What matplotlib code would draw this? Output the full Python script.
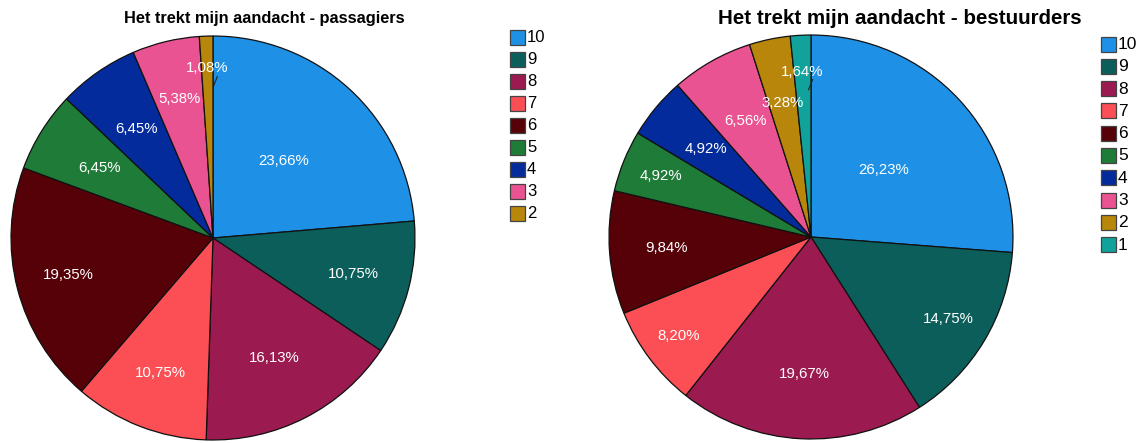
import matplotlib
matplotlib.use("Agg")
import matplotlib.pyplot as plt
from matplotlib.patches import Rectangle
import numpy as np

plt.rcParams['font.family'] = ['Liberation Sans', 'DejaVu Sans']

# Scores and their share of respondents (%)
labels_pass = ["10", "9", "8", "7", "6", "5", "4", "3", "2"]
pct_pass = [23.66, 10.75, 16.13, 10.75, 19.35, 6.45, 6.45, 5.38, 1.08]

labels_best = ["10", "9", "8", "7", "6", "5", "4", "3", "2", "1"]
pct_best = [26.23, 14.75, 19.67, 8.20, 9.84, 4.92, 4.92, 6.56, 3.28, 1.64]

titles = ["Het trekt mijn aandacht - passagiers",
          "Het trekt mijn aandacht - bestuurders"]

score_colors = {
    "10": "#1E91E6", "9": "#0C5E5B", "8": "#9B1A50", "7": "#FB4F55",
    "6": "#560008", "5": "#1F7C38", "4": "#032B9B", "3": "#EA5391",
    "2": "#B8860B", "1": "#11A29B",
}

# radial placement of the percentage labels (fraction of radius)
label_r_pass = [0.52, 0.72, 0.67, 0.72, 0.74, 0.66, 0.66, 0.71, 0.84]
label_r_best = [0.49, 0.79, 0.68, 0.82, 0.72, 0.80, 0.68, 0.66, 0.68, 0.82]

W, H = 1145, 443
fig = plt.figure(figsize=(W / 100, H / 100), dpi=100)


def px_axes(cx, cy, r):
    return fig.add_axes([(cx - r) / W, (H - cy - r) / H, 2 * r / W, 2 * r / H])


def fmt(v):
    return f"{v:.2f}%".replace(".", ",")


def draw_pie(ax, labels, values, radii):
    colors = [score_colors[l] for l in labels]
    wedges, _ = ax.pie(values, colors=colors, startangle=90, counterclock=False,
                       radius=1.0,
                       wedgeprops=dict(edgecolor="#111111", linewidth=0.9))
    for w, v, rr in zip(wedges, values, radii):
        ang = np.deg2rad((w.theta1 + w.theta2) / 2)
        x, y = rr * np.cos(ang), rr * np.sin(ang)
        ax.text(x, y, fmt(v), color="white", fontsize=10.8,
                ha="center", va="center")
        if v < 2:
            # short leader from the label into its thin slice
            ax.plot([x + 0.05, x + 0.03], [y - 0.04, y - 0.09],
                    color="#222222", lw=0.8)
    ax.set_xlim(-1.01, 1.01)
    ax.set_ylim(-1.01, 1.01)
    ax.axis("off")


ax1 = px_axes(213, 238, 204)
draw_pie(ax1, labels_pass, pct_pass, label_r_pass)
ax2 = px_axes(811, 237, 204)
draw_pie(ax2, labels_best, pct_best, label_r_best)

# overlay in pixel coordinates for titles and legends
ov = fig.add_axes([0, 0, 1, 1], zorder=5)
ov.set_xlim(0, W)
ov.set_ylim(H, 0)
ov.axis("off")

ov.text(264, 18, titles[0], fontsize=11.8, fontweight="bold",
        ha="center", va="center")
ov.text(900, 18, titles[1], fontsize=14.8, fontweight="bold",
        ha="center", va="center")


def draw_legend(x0, y0, step, box, labels, fs):
    for i, l in enumerate(labels):
        y = y0 + i * step
        ov.add_patch(Rectangle((x0, y - box / 2), box, box,
                               facecolor=score_colors[l],
                               edgecolor="#444444", linewidth=0.9))
        ov.text(x0 + box + 2, y + 0.5, l, fontsize=fs, ha="left", va="center")


draw_legend(510, 37, 22.0, 15, labels_pass, 12)
draw_legend(1101, 44, 22.3, 15, labels_best, 12.5)

fig.savefig("out.png", dpi=100, facecolor="white")
